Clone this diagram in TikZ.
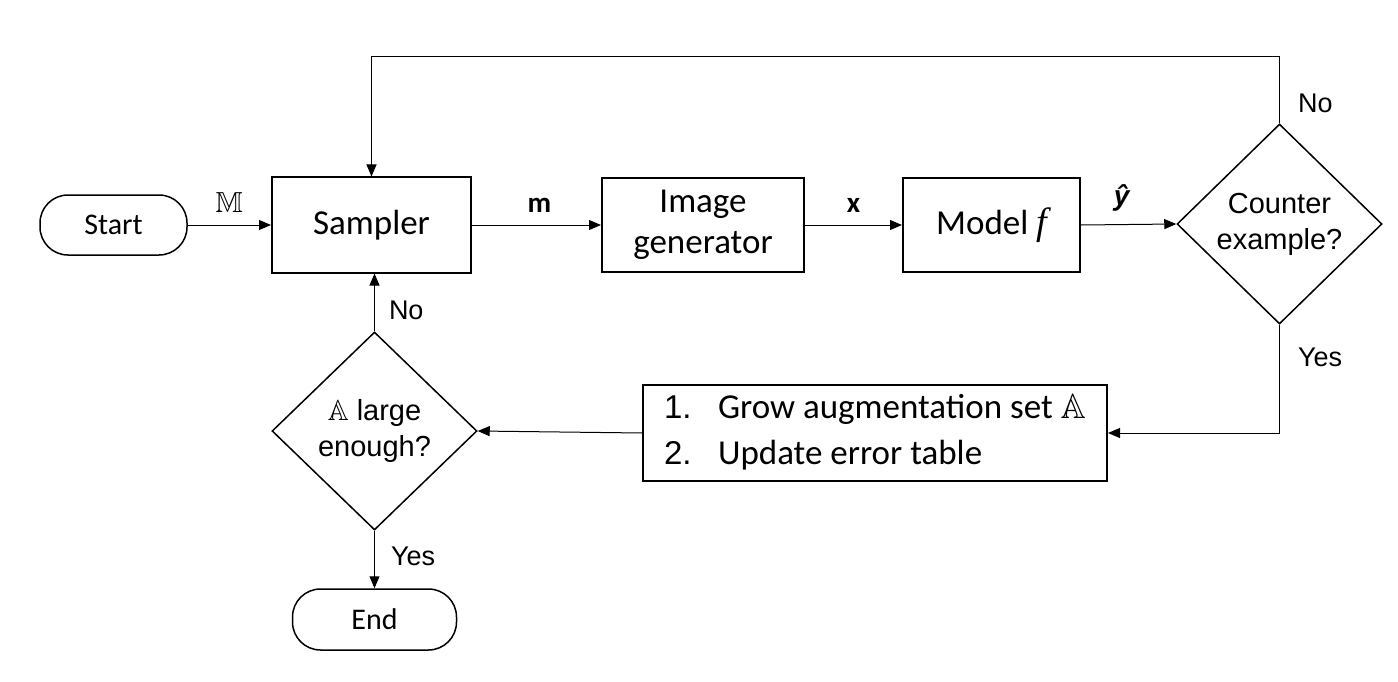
\documentclass[tikz,border=0pt]{standalone}
\usepackage{amsmath,amssymb}
\usepackage{fontspec}
\setmainfont{Carlito}
\newfontfamily\arialfont{Liberation Sans}
\newfontfamily\timesfont{Liberation Serif}
\usepackage{tikz}
\usetikzlibrary{positioning}
\usetikzlibrary{shapes.geometric}
\usetikzlibrary{arrows.meta}
\tikzstyle{procbox} = [draw=black, line width=2pt, rectangle, inner sep=0pt,
minimum height=95pt, align=center, font=\fontsize{35}{41}\selectfont]
\tikzstyle{termbox} = [draw=black, line width=1.5pt, rectangle, rounded corners=28pt,
minimum height=60pt, font=\fontsize{30}{35}\selectfont]
\tikzstyle{decision} = [draw=black, line width=1.5pt, diamond, aspect=1, inner sep=0pt,
minimum width=205pt, minimum height=200pt, align=center,
font=\arialfont\fontsize{29}{36}\selectfont]
\tikzstyle{flow} = [draw=black, line width=1pt, -{Triangle[length=12pt,width=10pt]}]
\tikzstyle{yesno} = [inner sep=0pt, font=\arialfont\fontsize{27}{32}\selectfont]
\tikzstyle{sym} = [inner sep=0pt, font=\fontsize{29}{34}\selectfont]

\begin{document}
\begin{tikzpicture}[x=1pt, y=-1pt]
        \useasboundingbox (0,0) rectangle (1398,682);
        % top row
        \node[termbox, minimum width=147pt] (start) at (113.5,225) {Start};
        \node[procbox, minimum width=199pt] (sampler) at (371.5,225) {Sampler};
        \node[procbox, minimum width=202pt, minimum height=94pt] (gen) at (703,225) {Image\\generator};
        \node[procbox, minimum width=177pt, minimum height=94pt] (model) at (991.5,225) {Model {\timesfont\itshape\fontsize{38}{41}\selectfont f}};
        \node[decision] (counter) at (1279.5,224) {Counter\\example?};
        % bottom row
        \node[procbox, minimum width=464pt, minimum height=96pt] (update) at (875,433) {%
            \begin{tabular}{@{}l@{}l@{}}
                \makebox[54pt][l]{\arialfont\fontsize{33}{45}\selectfont 1.} & Grow augmentation set $\mathbb{A}$\\[5pt]
                \makebox[54pt][l]{\arialfont\fontsize{33}{45}\selectfont 2.} & Update error table
            \end{tabular}};
        \node[decision, minimum height=198pt] (enough) at (374.5,431) {$\mathbb{A}$ large\\enough?};
        \node[termbox, minimum width=164pt, minimum height=61pt] (end) at (374.5,619.5) {End};

        \draw[flow] (start) -- node[sym, above=12pt] {$\mathbb{M}$} (sampler);
        \draw[flow] (sampler) -- node[sym, above=12pt, xshift=3pt] {\bfseries m} (gen);
        \draw[flow] (gen) -- node[sym, above=12pt] {\bfseries x} (model);
        \draw[flow] (model.east) -- node[sym, above=13pt, xshift=-7pt] {\arialfont\bfseries\itshape\fontsize{28}{32}\selectfont ŷ} (counter.west);
        \draw[flow] (counter.north) -- node[yesno, right=18pt, pos=0.3] {No} ++(0,-67) -| (sampler.north);
        \draw[flow] (counter.south) |- node[yesno, right=18pt, pos=0.15] {Yes} (update.east);
        \draw[flow] (update.west) -- (enough.east);
        \draw[flow] (enough.north) -- node[yesno, right=14pt, pos=0.37] {No} (enough.north |- sampler.south);
        \draw[flow] (enough.south) -- node[yesno, right=16pt, pos=0.45] {Yes} (end.north);
    \end{tikzpicture}
\end{document}
